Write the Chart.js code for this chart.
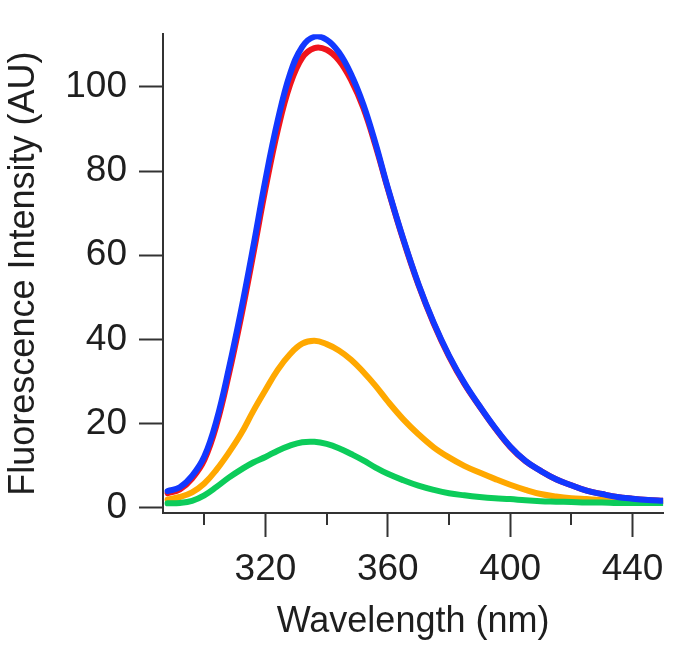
<!DOCTYPE html>
<html>
<head>
<meta charset="utf-8">
<script src="https://cdn.jsdelivr.net/npm/chart.js@4.4.0/dist/chart.umd.min.js"></script>
<style>
  html, body { margin: 0; padding: 0; background: #fff; }
  canvas { display: block; }
</style>
</head>
<body>
<canvas id="grafico" width="675" height="645"></canvas>
<script>
// wavelength (nm) and fluorescence intensity (AU)
const wavelengths = [288, 292, 296, 300, 304, 308, 312, 316, 320, 324, 328, 332, 336, 340, 344, 348, 352, 356, 360,
    365, 370, 375, 380, 385, 390, 395, 400, 405, 410, 415, 420, 425, 430, 435, 440, 445, 450];

const blue = [4.0, 4.9, 7.6, 12.2, 20.8, 33.0, 46.8, 62.0, 78.0, 92.0, 103.0, 109.5, 111.9, 111.2, 108.2, 103.0, 95.8, 86.5, 76.0,
    64.0, 53.2, 44.0, 36.2, 29.7, 24.2, 19.1, 14.6, 11.2, 8.8, 6.8, 5.4, 4.1, 3.3, 2.6, 2.2, 1.9, 1.7];

const red = [3.5, 4.4, 7.0, 11.4, 19.7, 31.6, 45.2, 60.2, 75.8, 89.7, 100.4, 106.9, 109.2, 108.8, 106.3, 101.6, 95.0, 86.0, 75.8,
    63.8, 53.0, 43.8, 36.0, 29.5, 24.1, 19.0, 14.5, 11.1, 8.8, 6.8, 5.4, 4.1, 3.3, 2.6, 2.2, 1.9, 1.7];

const orange = [2.0, 2.6, 3.7, 5.8, 9.1, 13.1, 17.6, 23.0, 28.0, 32.8, 36.5, 39.0, 39.7, 38.9, 37.4, 35.2, 32.3, 29.0, 25.3,
    21.1, 17.5, 14.4, 12.0, 10.0, 8.4, 6.9, 5.5, 4.3, 3.3, 2.7, 2.3, 2.1, 1.9, 1.8, 1.7, 1.6, 1.6];

const green = [1.1, 1.2, 1.7, 3.0, 5.0, 7.2, 9.1, 10.8, 12.1, 13.6, 14.8, 15.6, 15.7, 15.2, 14.2, 12.8, 11.3, 9.6, 8.1,
    6.6, 5.3, 4.3, 3.5, 3.0, 2.6, 2.3, 2.1, 1.8, 1.6, 1.5, 1.4, 1.3, 1.3, 1.2, 1.2, 1.2, 1.2];

const xTicks = [300, 320, 340, 360, 380, 400, 420, 440];
const xLabels = [320, 360, 400, 440];
const yTicks = [0, 20, 40, 60, 80, 100];

const axisColor = '#333333';
const textColor = '#1e1e1e';

Chart.defaults.font.family = "'Liberation Sans', Arial, sans-serif";
Chart.defaults.color = textColor;

const serie = (data, color) => ({
    data: data,
    borderColor: color,
    borderWidth: 6,
    pointRadius: 0,
    fill: false,
    tension: 0.4,
    borderCapStyle: 'round',
    borderJoinStyle: 'round'
});

// minor ticks on the wavelength axis are shorter than the labelled ones
const minorTicks = {
    id: 'minorTicks',
    afterDraw(chart) {
        const x = chart.scales.x;
        const ctx = chart.ctx;
        ctx.save();
        ctx.strokeStyle = axisColor;
        ctx.lineWidth = 2;
        xTicks.filter(v => !xLabels.includes(v)).forEach(v => {
            const px = Math.round(x.getPixelForValue(v));
            ctx.beginPath();
            ctx.moveTo(px, x.top);
            ctx.lineTo(px, x.top + 12);
            ctx.stroke();
        });
        ctx.restore();
    }
};

new Chart(document.getElementById('grafico').getContext('2d'), {
    type: 'line',
    data: {
        labels: wavelengths,
        datasets: [
            serie(blue, '#1238ff'),
            serie(green, '#0ccc5a'),
            serie(orange, '#ffa800'),
            serie(red, '#f0141c')
        ]
    },
    plugins: [minorTicks],
    options: {
        responsive: false,
        animation: false,
        layout: { padding: { top: 10, right: 10, left: 0, bottom: 0 } },
        plugins: {
            legend: { display: false },
            tooltip: { enabled: false }
        },
        scales: {
            x: {
                type: 'linear',
                min: 286.5,
                max: 450,
                afterBuildTicks: (scale) => { scale.ticks = xTicks.map(v => ({ value: v })); },
                afterFit: (scale) => { scale.height = 132; },
                border: { display: true, color: axisColor, width: 2 },
                grid: {
                    drawOnChartArea: false,
                    drawTicks: true,
                    tickLength: 24,
                    tickWidth: 2,
                    tickColor: (ctx) => xLabels.includes(ctx.tick && ctx.tick.value) ? axisColor : 'rgba(0,0,0,0)'
                },
                ticks: {
                    padding: 11,
                    maxRotation: 0,
                    autoSkip: false,
                    font: { size: 37 },
                    callback: (v) => xLabels.includes(v) ? String(v) : ''
                },
                title: {
                    display: true,
                    text: 'Wavelength (nm)',
                    font: { size: 36 },
                    padding: { top: 0, bottom: 1 }
                }
            },
            y: {
                min: -1.2,
                max: 112.5,
                afterBuildTicks: (scale) => { scale.ticks = yTicks.map(v => ({ value: v })); },
                afterFit: (scale) => { scale.width = 163; },
                border: { display: true, color: axisColor, width: 2 },
                grid: {
                    drawOnChartArea: false,
                    drawTicks: true,
                    tickLength: 24,
                    tickWidth: 2,
                    tickColor: axisColor
                },
                ticks: {
                    padding: 12,
                    autoSkip: false,
                    font: { size: 37 }
                },
                title: {
                    display: true,
                    text: 'Fluorescence Intensity (AU)',
                    font: { size: 36 },
                    padding: { top: 2, bottom: 0 }
                }
            }
        }
    }
});
</script>
</body>
</html>
